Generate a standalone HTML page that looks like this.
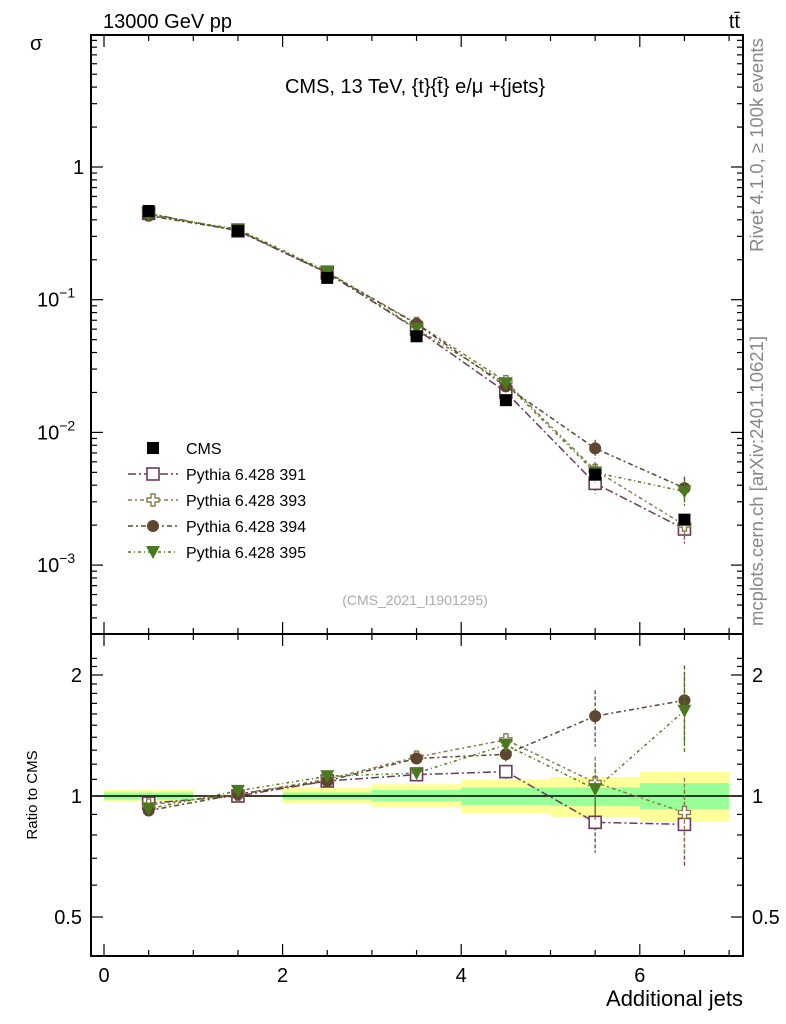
<!DOCTYPE html>
<html><head><meta charset="utf-8"><style>
body{margin:0;background:#fff}
svg{display:block;font-family:"Liberation Sans",sans-serif}
</style></head><body>
<svg id="c" width="786" height="1024" viewBox="0 0 786 1024" xmlns="http://www.w3.org/2000/svg">
<text x="103" y="28" font-size="20">13000 GeV pp</text>
<text x="740" y="28" font-size="20" text-anchor="end">tt̄</text>
<text x="30" y="50" font-size="20">σ</text>
<text x="415" y="93" font-size="20" text-anchor="middle">CMS, 13 TeV, {t}{t̄} e/μ +{jets}</text>
<text x="415" y="605" font-size="14" fill="#aaa" text-anchor="middle">(CMS_2021_I1901295)</text>
<text transform="translate(763,145) rotate(-90)" font-size="18.5" fill="#888" text-anchor="middle">Rivet 4.1.0, ≥ 100k events</text>
<text transform="translate(763,481) rotate(-90)" font-size="18.5" fill="#888" text-anchor="middle">mcplots.cern.ch [arXiv:2401.10621]</text>
<text transform="translate(37,795) rotate(-90)" font-size="15" text-anchor="middle">Ratio to CMS</text>
<text x="743" y="1006" font-size="22" text-anchor="end">Additional jets</text>
<g id="bands"></g><g id="grid"></g><g id="marks"></g><g id="legend"></g>
</svg>
<script>
const categories=[0.5,1.5,2.5,3.5,4.5,5.5,6.5];
const binEdges=[0,1,2,3,4,5,6,7];
const cmsValues=[0.466,0.33,0.146,0.053,0.0175,0.0048,0.0022];
const cmsErrRel=[0.03,0.01,0.03,0.05,0.07,0.09,0.12];
const yellowHi=[1.035,1.005,1.05,1.07,1.10,1.115,1.147];
const yellowLo=[0.97,0.995,0.96,0.94,0.907,0.887,0.862];
const greenHi=[1.02,1.003,1.02,1.035,1.05,1.05,1.077];
const greenLo=[0.98,0.997,0.98,0.97,0.95,0.945,0.928];
const ratio391=[0.96,1.0,1.09,1.13,1.15,0.86,0.85];
const ratio393=[0.95,1.01,1.10,1.25,1.38,1.08,0.91];
const ratio394=[0.92,1.01,1.09,1.24,1.27,1.58,1.73];
const ratio395=[0.93,1.03,1.12,1.14,1.34,1.04,1.63];
const mcErrRel=[0.01,0.01,0.01,0.02,0.04,0.16,0.22];
const seriesNames=["Pythia 6.428 391","Pythia 6.428 393","Pythia 6.428 394","Pythia 6.428 395"];
const xTicks=[0,2,4,6];
const ratioTicks=[0.5,1,2];

const NS="http://www.w3.org/2000/svg";
const L=91,R=743,MT=35,MB=634,RT=634,RB=956;
const X=v=>104+v*89.3;
const Y=v=>167-Math.log10(v)*132.7;
const YR=v=>796-Math.log2(v)*121;
function mk(p,tag,a){const e=document.createElementNS(NS,tag);for(const k in a)e.setAttribute(k,a[k]);p.appendChild(e);return e;}
const bands=document.getElementById('bands'),grid=document.getElementById('grid'),marks=document.getElementById('marks'),legend=document.getElementById('legend');

for(let i=0;i<categories.length;i++){
 const x0=X(binEdges[i]),x1=X(binEdges[i+1]);
 const y=mk(bands,'rect',{x:x0,y:YR(yellowHi[i]),width:x1-x0,height:YR(yellowLo[i])-YR(yellowHi[i]),fill:'#ffff99'});
 
 const g=mk(bands,'rect',{x:x0,y:YR(greenHi[i]),width:x1-x0,height:YR(greenLo[i])-YR(greenHi[i]),fill:'#99ff99'});
 
}
const one=mk(grid,'line',{x1:L,x2:R,y1:YR(1),y2:YR(1),stroke:'#000','stroke-width':1.5});


for(const [t,b,n] of [[MT,MB,'main-frame'],[RT,RB,'ratio-frame']]){
 const f=mk(grid,'rect',{x:L,y:t,width:R-L,height:b-t,fill:'none',stroke:'#000','stroke-width':2});
 
}
function tick(x1,y1,x2,y2){mk(grid,'line',{x1,y1,x2,y2,stroke:'#000','stroke-width':1.2});}
for(let v=0;v<=7.01;v+=0.5){const x=X(v),len=(v%2===0)?12:6;
 for(const [t,b] of [[MT,MB],[RT,RB]]){tick(x,b,x,b-len);tick(x,t,x,t+len);}}
xTicks.forEach(v=>{const t=mk(grid,'text',{x:X(v),y:982,'font-size':20,'text-anchor':'middle'});t.textContent=v;
 });
for(let d=-4;d<=0;d++){for(let m=1;m<10;m++){const v=m*Math.pow(10,d),y=Y(v);if(y<MT||y>MB)continue;
 const len=m===1?12:6;tick(L,y,L+len,y);tick(R,y,R-len,y);}}
const mainLab=[[1,'1',''],[0.1,'10','−1'],[0.01,'10','−2'],[0.001,'10','−3']];
mainLab.forEach(([v,b,e])=>{const t=mk(grid,'text',{x:e?37:73,y:Y(v)+7,'font-size':20});t.textContent=b;
 if(e){const s=mk(t,'tspan',{dy:-9,'font-size':14});s.textContent=e;}
 });
for(let v=0.4;v<=2.3;v+=0.1){const y=YR(v);if(y<RT||y>RB)continue;const maj=ratioTicks.some(r=>Math.abs(r-v)<1e-6);
 const len=maj?12:6;tick(L,y,L+len,y);tick(R,y,R-len,y);}
ratioTicks.forEach(v=>{for(const [x,a] of [[82,'end'],[752,'start']]){const t=mk(grid,'text',{x,y:YR(v)+7,'font-size':20,'text-anchor':a});t.textContent=v;
 }});

const colors=['#6b3a56','#8a7a4a','#5e4630','#4b7a1e'];
const dashes=['8,3,2,3','4,3,2,3','5,3,2,3','3,3,1,3'];
const shapes=['sq','cross','circle','tri'];
function marker(p,shape,x,y,c,name){let e;
 if(shape==='sq')e=mk(p,'rect',{x:x-6,y:y-6,width:12,height:12,fill:'#fff',stroke:c,'stroke-width':1.6});
 else if(shape==='cross')e=mk(p,'path',{d:`M${x-2},${y-6}h4v4h4v4h-4v4h-4v-4h-4v-4h4z`,fill:'#fff',stroke:c,'stroke-width':1.4});
 else if(shape==='circle')e=mk(p,'circle',{cx:x,cy:y,r:6,fill:c});
 else if(shape==='tri')e=mk(p,'path',{d:`M${x-7},${y-6}L${x+7},${y-6}L${x},${y+7}z`,fill:c});
 else e=mk(p,'rect',{x:x-6,y:y-6,width:12,height:12,fill:'#000'});
 return e;}

const ratios=[ratio391,ratio393,ratio394,ratio395];
ratios.forEach((rs,s)=>{const c=colors[s];
 const ptsM=categories.map((x,i)=>[X(x),Y(cmsValues[i]*rs[i])]);
 const ptsR=categories.map((x,i)=>[X(x),YR(rs[i])]);
 for(const [pts,nm,fn] of [[ptsM,'main',(i)=>[Y(cmsValues[i]*rs[i]*(1+mcErrRel[i])),Y(cmsValues[i]*rs[i]*(1-mcErrRel[i]))]],[ptsR,'ratio',(i)=>[YR(rs[i]*(1+mcErrRel[i])),YR(rs[i]*(1-mcErrRel[i]))]]]){
  const pl=mk(marks,'polyline',{points:pts.map(p=>p.join(',')).join(' '),fill:'none',stroke:c,'stroke-width':1.5,'stroke-dasharray':dashes[s]});
  
  pts.forEach((p,i)=>{const [a,b]=fn(i);mk(marks,'line',{x1:p[0],x2:p[0],y1:a,y2:b,stroke:c,'stroke-width':1.3,'stroke-dasharray':'4,2'});
   marker(marks,shapes[s],p[0],p[1],c,nm+'-point-'+s);});
 }
});
categories.forEach((x,i)=>{marker(marks,'cms',X(x),Y(cmsValues[i]),'#000','cms-point');});

const ly=[448,474,500,526,552];
marker(legend,'cms',153,ly[0],'#000','legend-cms-marker');
let t=mk(legend,'text',{x:186,y:ly[0]+6,'font-size':16});t.textContent='CMS';

seriesNames.forEach((n,s)=>{const y=ly[s+1];
 mk(legend,'line',{x1:128,x2:178,y1:y,y2:y,stroke:colors[s],'stroke-width':1.5,'stroke-dasharray':dashes[s]});
 marker(legend,shapes[s],153,y,colors[s],'legend-marker');
 const tt=mk(legend,'text',{x:186,y:y+6,'font-size':16});tt.textContent=n;
 });
</script>
</body></html>
